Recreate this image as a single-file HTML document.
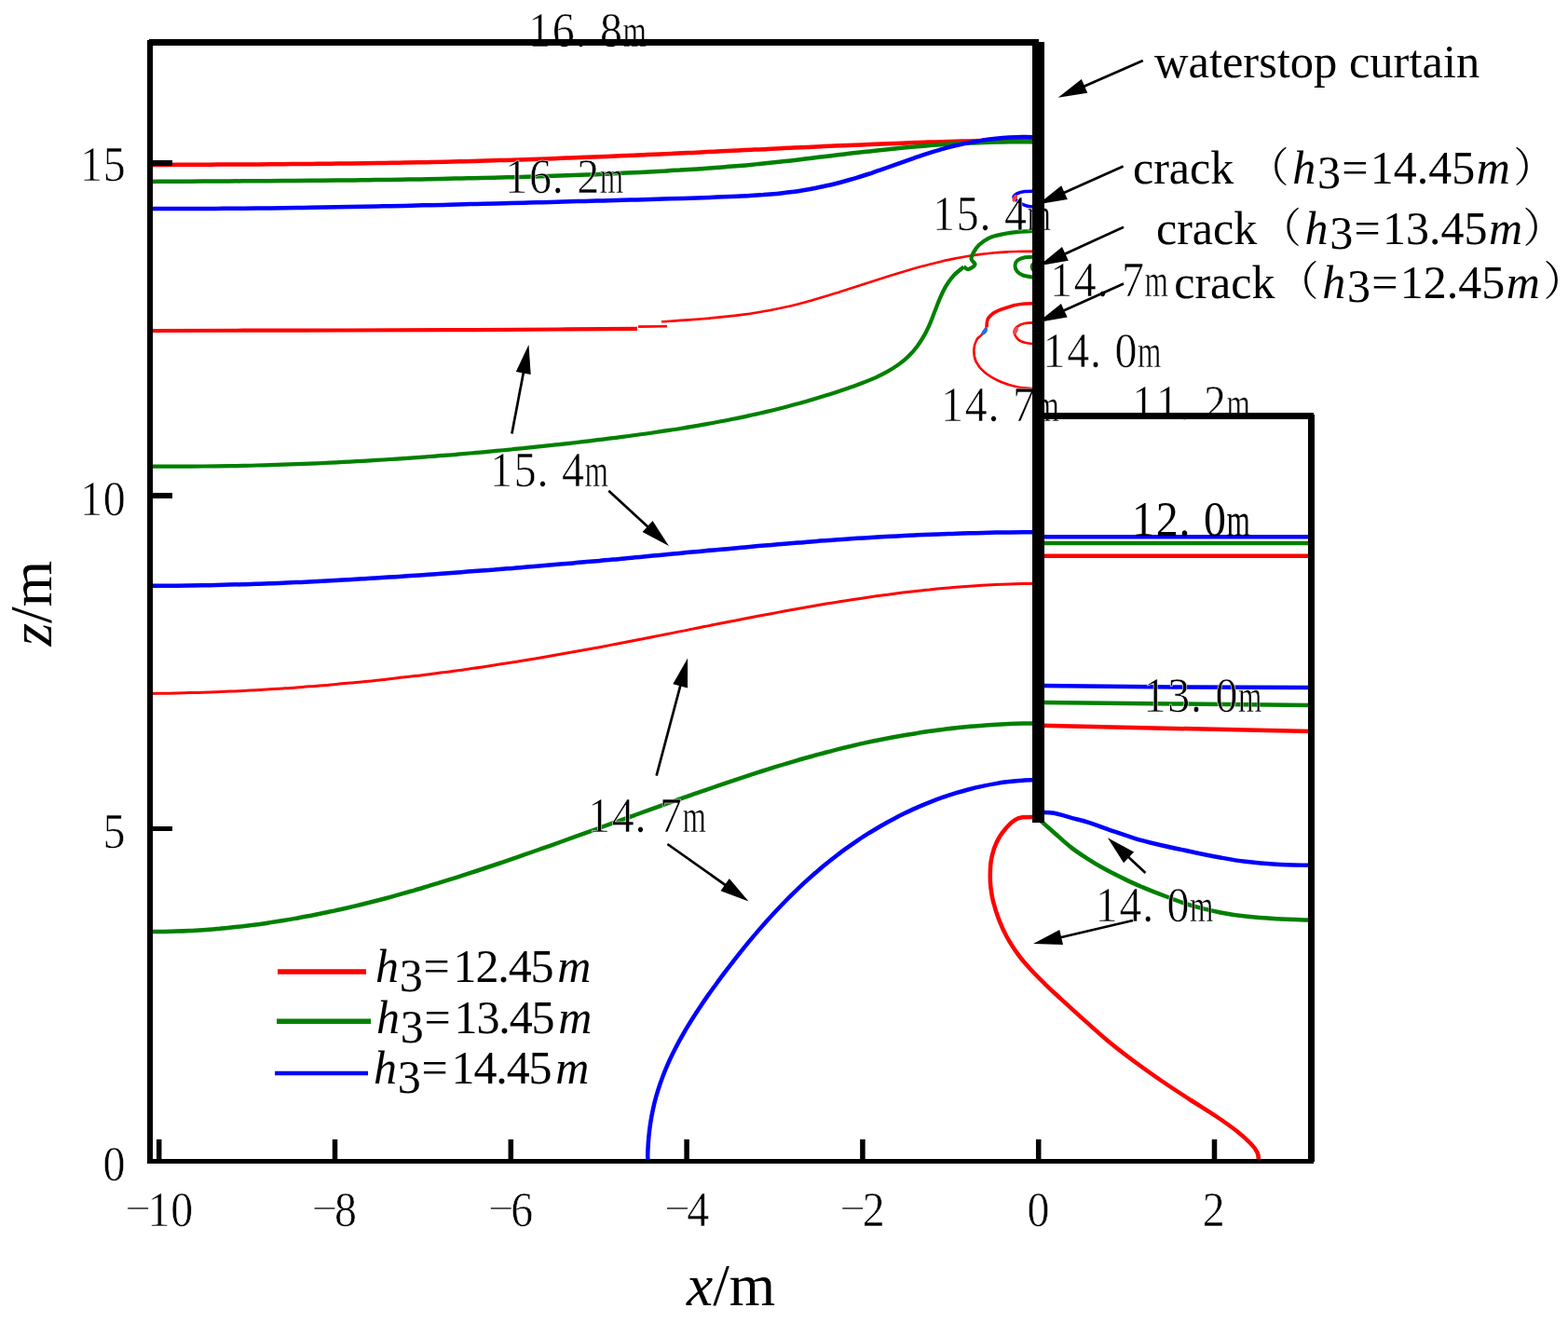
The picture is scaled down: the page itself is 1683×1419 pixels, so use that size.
<!DOCTYPE html>
<html lang="en">
<head>
<meta charset="utf-8">
<title>Contour plot of water head around waterstop curtain</title>
<style>
html,body{margin:0;padding:0;background:#fff;}
body{width:1683px;height:1419px;overflow:hidden;}
svg{display:block;}
text{white-space:pre;}
</style>
</head>
<body>
<svg width="1683" height="1419" viewBox="0 0 1683 1419" font-family="'Liberation Serif', 'Noto Serif CJK SC', serif" fill="#000">
<rect width="1683" height="1419" fill="#fff"/>
<g fill="none" stroke-linecap="butt" stroke-linejoin="round">
<path d="M161.0 177.0C163.4 177.0 170.6 176.9 175.4 176.9C180.2 176.9 185.0 176.9 189.8 176.8C194.6 176.8 199.4 176.8 204.2 176.8C209.1 176.7 213.9 176.7 218.7 176.7C223.5 176.7 228.3 176.6 233.1 176.6C237.9 176.6 242.7 176.6 247.5 176.5C252.3 176.5 257.1 176.5 261.9 176.5C266.7 176.4 271.5 176.4 276.3 176.4C281.1 176.3 285.9 176.3 290.7 176.3C295.6 176.2 300.4 176.2 305.2 176.2C310.0 176.1 314.8 176.1 319.6 176.0C324.4 176.0 329.2 176.0 334.0 175.9C338.8 175.9 343.6 175.8 348.4 175.8C353.2 175.7 358.0 175.7 362.8 175.6C367.6 175.6 372.4 175.5 377.2 175.5C382.1 175.4 386.9 175.3 391.7 175.3C396.5 175.2 401.3 175.1 406.1 175.1C410.9 175.0 415.7 174.9 420.5 174.8C425.3 174.7 430.1 174.7 434.9 174.6C439.7 174.5 444.5 174.4 449.3 174.3C454.1 174.2 458.9 174.1 463.7 174.0C468.5 173.9 473.3 173.8 478.1 173.7C482.9 173.6 487.7 173.5 492.6 173.3C497.4 173.2 502.2 173.1 507.0 173.0C511.8 172.8 516.6 172.7 521.4 172.5C526.2 172.4 531.0 172.3 535.8 172.1C540.6 172.0 545.4 171.8 550.2 171.7C555.0 171.5 559.8 171.4 564.6 171.2C569.4 171.0 574.2 170.9 579.0 170.7C583.8 170.5 588.6 170.3 593.4 170.2C598.2 170.0 603.0 169.8 607.8 169.6C612.6 169.5 617.4 169.3 622.2 169.1C627.0 168.9 631.8 168.7 636.6 168.5C641.4 168.3 646.2 168.1 651.0 167.9C655.8 167.7 660.6 167.5 665.4 167.3C670.2 167.1 675.0 166.9 679.8 166.7C684.6 166.5 689.4 166.3 694.2 166.0C699.0 165.8 703.9 165.6 708.7 165.4C713.5 165.2 718.3 165.0 723.1 164.7C727.9 164.5 732.7 164.3 737.5 164.1C742.3 163.8 747.1 163.6 751.9 163.4C756.7 163.2 761.5 162.9 766.3 162.7C771.1 162.5 775.9 162.2 780.7 162.0C785.5 161.8 790.3 161.6 795.1 161.3C799.9 161.1 804.7 160.9 809.5 160.6C814.3 160.4 819.1 160.2 823.9 159.9C828.7 159.7 833.5 159.5 838.3 159.3C843.1 159.0 847.9 158.8 852.7 158.6C857.5 158.4 862.3 158.1 867.1 157.9C871.9 157.7 876.7 157.5 881.5 157.3C886.3 157.0 891.1 156.8 895.9 156.6C900.7 156.4 905.5 156.2 910.3 156.0C915.1 155.8 919.9 155.6 924.7 155.4C929.5 155.2 934.3 155.0 939.1 154.8C943.9 154.6 948.7 154.4 953.5 154.2C958.3 154.0 963.1 153.8 967.9 153.7C972.7 153.5 977.5 153.3 982.3 153.1C987.1 153.0 991.9 152.8 996.7 152.6C1001.5 152.5 1006.3 152.3 1011.1 152.2C1015.9 152.0 1020.7 151.9 1025.5 151.7C1030.3 151.6 1035.1 151.5 1039.9 151.4C1044.7 151.2 1049.5 151.1 1054.3 151.0C1059.1 150.9 1063.9 150.9 1068.7 150.8C1073.6 150.7 1078.4 150.6 1083.2 150.6C1088.0 150.5 1092.8 150.5 1097.6 150.4C1102.4 150.4 1109.6 150.4 1112.0 150.4" stroke="#ff0000" stroke-width="4.5"/>
<path d="M161.0 194.9C163.4 194.9 170.5 194.8 175.2 194.8C180.0 194.8 184.7 194.8 189.4 194.7C194.2 194.7 198.9 194.7 203.7 194.7C208.4 194.6 213.1 194.6 217.9 194.6C222.6 194.6 227.4 194.5 232.1 194.5C236.8 194.5 241.6 194.5 246.3 194.4C251.1 194.4 255.8 194.4 260.5 194.3C265.3 194.3 270.0 194.3 274.8 194.3C279.5 194.2 284.2 194.2 289.0 194.2C293.7 194.1 298.5 194.1 303.2 194.1C307.9 194.0 312.7 194.0 317.4 193.9C322.1 193.9 326.9 193.9 331.6 193.8C336.4 193.8 341.1 193.7 345.8 193.7C350.6 193.6 355.3 193.6 360.1 193.6C364.8 193.5 369.5 193.5 374.3 193.4C379.0 193.4 383.8 193.3 388.5 193.2C393.2 193.2 398.0 193.1 402.7 193.1C407.4 193.0 412.2 192.9 416.9 192.9C421.7 192.8 426.4 192.7 431.1 192.7C435.9 192.6 440.6 192.5 445.4 192.4C450.1 192.4 454.8 192.3 459.6 192.2C464.3 192.1 469.0 192.0 473.8 191.9C478.5 191.8 483.3 191.7 488.0 191.6C492.7 191.5 497.5 191.4 502.2 191.3C507.0 191.2 511.7 191.1 516.4 191.0C521.2 190.9 525.9 190.8 530.6 190.7C535.4 190.5 540.1 190.4 544.9 190.3C549.6 190.1 554.3 190.0 559.1 189.9C563.8 189.7 568.5 189.6 573.3 189.5C578.0 189.3 582.8 189.2 587.5 189.0C592.2 188.8 597.0 188.7 601.7 188.5C606.5 188.3 611.2 188.2 615.9 188.0C620.7 187.8 625.4 187.6 630.1 187.4C634.9 187.3 639.6 187.1 644.3 186.9C649.1 186.7 653.8 186.5 658.6 186.2C663.3 186.0 668.0 185.8 672.8 185.6C677.5 185.4 682.2 185.1 687.0 184.9C691.7 184.7 696.4 184.4 701.2 184.2C705.9 183.9 710.6 183.6 715.4 183.4C720.1 183.1 724.8 182.8 729.6 182.6C734.3 182.3 739.0 182.0 743.7 181.7C748.5 181.4 753.2 181.1 757.9 180.7C762.7 180.4 767.4 180.1 772.1 179.7C776.8 179.4 781.6 179.0 786.3 178.6C791.0 178.2 795.7 177.8 800.4 177.4C805.2 176.9 809.9 176.5 814.6 176.0C819.3 175.5 824.0 175.0 828.7 174.5C833.4 174.0 838.1 173.5 842.9 173.0C847.6 172.4 852.3 171.9 857.0 171.4C861.7 170.8 866.4 170.3 871.1 169.7C875.8 169.1 880.5 168.6 885.2 168.0C889.9 167.4 894.6 166.9 899.3 166.3C904.0 165.7 908.8 165.2 913.5 164.6C918.2 164.1 922.9 163.5 927.6 163.0C932.3 162.4 937.0 161.9 941.7 161.4C946.4 160.9 951.1 160.4 955.9 159.9C960.6 159.4 965.3 159.0 970.0 158.5C974.7 158.1 979.4 157.7 984.2 157.3C988.9 156.9 993.6 156.5 998.3 156.1C1003.1 155.8 1007.8 155.4 1012.5 155.1C1017.2 154.8 1022.0 154.5 1026.7 154.3C1031.4 154.0 1036.2 153.8 1040.9 153.6C1045.6 153.3 1050.4 153.2 1055.1 153.0C1059.8 152.8 1064.6 152.7 1069.3 152.6C1074.0 152.5 1078.8 152.4 1083.5 152.3C1088.3 152.3 1093.0 152.3 1097.8 152.3C1102.5 152.3 1109.6 152.4 1112.0 152.4" stroke="#008000" stroke-width="4.5"/>
<path d="M161.0 224.0C163.4 224.0 170.5 224.0 175.3 224.0C180.1 224.0 184.9 224.0 189.6 224.0C194.4 224.0 199.2 224.0 203.9 224.0C208.7 224.0 213.5 224.0 218.3 224.0C223.0 223.9 227.8 223.9 232.6 223.9C237.4 223.9 242.1 223.8 246.9 223.8C251.7 223.8 256.4 223.7 261.2 223.7C266.0 223.6 270.8 223.6 275.5 223.5C280.3 223.5 285.1 223.4 289.9 223.4C294.6 223.3 299.4 223.3 304.2 223.2C308.9 223.1 313.7 223.1 318.5 223.0C323.3 222.9 328.0 222.9 332.8 222.8C337.6 222.7 342.3 222.6 347.1 222.6C351.9 222.5 356.7 222.4 361.4 222.3C366.2 222.2 371.0 222.1 375.8 222.1C380.5 222.0 385.3 221.9 390.1 221.8C394.8 221.7 399.6 221.6 404.4 221.5C409.2 221.4 413.9 221.3 418.7 221.2C423.5 221.1 428.3 221.0 433.0 220.9C437.8 220.8 442.6 220.7 447.3 220.5C452.1 220.4 456.9 220.3 461.7 220.2C466.4 220.1 471.2 220.0 476.0 219.9C480.7 219.7 485.5 219.6 490.3 219.5C495.1 219.4 499.8 219.3 504.6 219.1C509.4 219.0 514.1 218.9 518.9 218.8C523.7 218.7 528.5 218.5 533.2 218.4C538.0 218.3 542.8 218.2 547.5 218.0C552.3 217.9 557.1 217.8 561.8 217.7C566.6 217.5 571.4 217.4 576.2 217.3C580.9 217.1 585.7 217.0 590.5 216.9C595.2 216.8 600.0 216.6 604.8 216.5C609.5 216.4 614.3 216.2 619.1 216.1C623.9 216.0 628.6 215.9 633.4 215.7C638.2 215.6 642.9 215.5 647.7 215.4C652.5 215.2 657.2 215.1 662.0 215.0C666.8 214.8 671.5 214.7 676.3 214.6C681.1 214.5 685.8 214.3 690.6 214.2C695.4 214.1 700.2 213.9 704.9 213.8C709.7 213.6 714.5 213.5 719.2 213.3C724.0 213.2 728.8 213.0 733.5 212.9C738.3 212.7 743.1 212.6 747.9 212.4C752.6 212.2 757.4 212.1 762.2 211.9C767.0 211.7 771.7 211.5 776.5 211.3C781.3 211.1 786.1 210.9 790.8 210.7C795.6 210.5 800.4 210.3 805.2 210.0C809.9 209.7 814.7 209.4 819.5 209.1C824.2 208.7 829.0 208.3 833.7 207.9C838.5 207.4 843.2 206.9 847.9 206.3C852.7 205.7 857.4 205.0 862.1 204.2C866.8 203.5 871.5 202.6 876.1 201.7C880.8 200.8 885.5 199.7 890.1 198.7C894.7 197.6 899.4 196.4 904.0 195.2C908.6 193.9 913.2 192.6 917.8 191.3C922.4 189.9 926.9 188.5 931.5 187.0C936.0 185.5 940.5 183.9 945.1 182.4C949.6 180.8 954.1 179.2 958.6 177.6C963.1 176.0 967.6 174.4 972.1 172.8C976.6 171.2 981.1 169.6 985.6 168.1C990.1 166.5 994.6 165.0 999.2 163.6C1003.8 162.2 1008.3 160.8 1012.9 159.6C1017.5 158.3 1022.1 157.1 1026.8 156.0C1031.4 154.9 1036.1 153.9 1040.8 153.1C1045.4 152.2 1050.1 151.4 1054.8 150.6C1059.6 149.9 1064.3 149.3 1069.0 148.8C1073.8 148.3 1078.5 147.9 1083.3 147.6C1088.1 147.4 1092.8 147.2 1097.6 147.1C1102.4 147.0 1109.6 147.2 1112.0 147.2" stroke="#0000ff" stroke-width="4.5"/>
<path d="M1112.0 205.3C1110.0 205.4 1103.3 205.2 1100.0 205.6C1096.7 206.0 1094.0 206.6 1092.0 207.6C1090.0 208.6 1088.2 210.3 1088.0 211.5C1087.8 212.7 1089.5 213.8 1091.0 215.0C1092.5 216.2 1095.0 217.9 1097.0 219.0C1099.0 220.1 1100.5 220.8 1103.0 221.3C1105.5 221.9 1110.5 222.1 1112.0 222.3" stroke="#0000ff" stroke-width="3.5"/>
<path d="M161.0 355.0C187.5 354.9 266.8 354.7 320.0 354.6C373.2 354.5 433.3 354.4 480.0 354.2C526.7 354.0 566.0 353.7 600.0 353.5C634.0 353.3 670.0 352.9 684.0 352.8" stroke="#ff0000" stroke-width="4.2"/>
<path d="M685.0 350.6L716.0 350.2" stroke="#ff0000" stroke-width="2.6"/>
<path d="M710.0 345.3C712.4 345.1 719.8 344.7 724.6 344.4C729.5 344.0 734.4 343.7 739.3 343.4C744.2 343.0 749.1 342.6 753.9 342.2C758.8 341.8 763.7 341.4 768.6 340.9C773.5 340.5 778.3 340.0 783.2 339.4C788.1 338.9 792.9 338.3 797.8 337.6C802.6 337.0 807.4 336.3 812.3 335.5C817.1 334.7 821.9 333.9 826.7 333.0C831.5 332.1 836.3 331.1 841.0 330.0C845.8 329.0 850.6 327.9 855.3 326.7C860.0 325.5 864.7 324.2 869.5 322.9C874.2 321.6 878.9 320.2 883.5 318.8C888.2 317.4 892.9 316.0 897.6 314.5C902.3 313.1 906.9 311.6 911.6 310.1C916.3 308.6 920.9 307.0 925.6 305.5C930.3 304.0 934.9 302.5 939.6 301.0C944.3 299.5 948.9 298.0 953.6 296.5C958.3 295.0 962.9 293.6 967.6 292.2C972.3 290.8 977.0 289.4 981.7 288.0C986.4 286.7 991.1 285.4 995.9 284.2C1000.6 282.9 1005.3 281.8 1010.1 280.7C1014.8 279.6 1019.6 278.5 1024.4 277.6C1029.2 276.6 1034.0 275.8 1038.8 275.0C1043.6 274.2 1048.4 273.5 1053.3 272.9C1058.1 272.3 1063.0 271.8 1067.9 271.3C1072.8 270.9 1077.7 270.6 1082.5 270.3C1087.4 270.1 1092.3 269.9 1097.3 269.8C1102.2 269.8 1109.5 269.9 1112.0 269.9" stroke="#ff0000" stroke-width="2.6"/>
<path d="M161.0 500.6C163.4 500.6 170.5 500.7 175.3 500.7C180.1 500.7 184.9 500.7 189.6 500.7C194.4 500.7 199.2 500.7 203.9 500.6C208.7 500.6 213.5 500.6 218.3 500.5C223.0 500.5 227.8 500.4 232.6 500.4C237.3 500.3 242.1 500.2 246.9 500.2C251.7 500.1 256.4 500.0 261.2 499.9C266.0 499.8 270.7 499.7 275.5 499.5C280.3 499.4 285.1 499.3 289.8 499.1C294.6 499.0 299.4 498.8 304.2 498.7C308.9 498.5 313.7 498.4 318.5 498.2C323.2 498.0 328.0 497.8 332.8 497.6C337.6 497.4 342.3 497.2 347.1 497.0C351.9 496.8 356.6 496.5 361.4 496.3C366.2 496.1 370.9 495.8 375.7 495.6C380.5 495.3 385.2 495.1 390.0 494.8C394.8 494.5 399.5 494.2 404.3 493.9C409.1 493.7 413.8 493.4 418.6 493.0C423.4 492.7 428.1 492.4 432.9 492.1C437.7 491.8 442.4 491.4 447.2 491.1C452.0 490.7 456.7 490.4 461.5 490.0C466.2 489.7 471.0 489.3 475.8 488.9C480.5 488.5 485.3 488.1 490.0 487.8C494.8 487.4 499.6 486.9 504.3 486.5C509.1 486.1 513.8 485.7 518.6 485.3C523.3 484.8 528.1 484.4 532.9 483.9C537.6 483.5 542.4 483.0 547.1 482.6C551.9 482.1 556.6 481.6 561.4 481.2C566.1 480.7 570.9 480.2 575.6 479.7C580.3 479.2 585.1 478.7 589.8 478.2C594.6 477.6 599.3 477.1 604.1 476.6C608.8 476.1 613.6 475.5 618.3 475.0C623.0 474.4 627.8 473.9 632.5 473.3C637.2 472.7 642.0 472.2 646.7 471.6C651.4 471.0 656.2 470.4 660.9 469.8C665.6 469.2 670.4 468.6 675.1 468.0C679.8 467.3 684.5 466.7 689.3 466.0C694.0 465.4 698.7 464.7 703.4 464.0C708.1 463.4 712.9 462.7 717.6 461.9C722.3 461.2 727.0 460.5 731.7 459.7C736.4 459.0 741.1 458.2 745.8 457.4C750.5 456.6 755.2 455.8 759.9 454.9C764.6 454.1 769.3 453.2 773.9 452.3C778.6 451.4 783.3 450.5 788.0 449.5C792.6 448.6 797.3 447.6 802.0 446.6C806.6 445.6 811.3 444.6 815.9 443.5C820.6 442.4 825.2 441.3 829.9 440.2C834.5 439.0 839.2 437.9 843.8 436.7C848.4 435.5 853.0 434.2 857.7 433.0C862.3 431.7 866.9 430.4 871.5 429.0C876.1 427.7 880.7 426.3 885.3 424.8C889.9 423.4 894.5 421.9 899.0 420.4C903.6 418.9 908.2 417.4 912.7 415.8C917.3 414.1 921.9 412.5 926.4 410.8C930.9 409.0 935.4 407.2 939.7 405.3C944.1 403.3 948.3 401.2 952.4 398.9C956.5 396.6 960.5 394.1 964.3 391.4C968.1 388.7 971.7 385.8 975.0 382.5C978.3 379.3 981.4 375.7 984.3 371.9C987.1 368.2 989.7 364.1 992.1 359.9C994.4 355.8 996.4 351.3 998.4 346.9C1000.3 342.5 1001.9 337.8 1003.7 333.3C1005.5 328.8 1007.1 324.3 1009.0 319.9C1011.0 315.5 1012.9 311.2 1015.3 307.2C1017.7 303.2 1020.3 299.3 1023.5 295.8C1026.7 292.3 1032.7 288.0 1034.5 286.4" stroke="#008000" stroke-width="4.2"/>
<path d="M1034.5 286.4C1035.3 286.8 1037.5 289.4 1039.5 289.0C1041.5 288.6 1046.0 285.8 1046.5 284.0C1047.0 282.2 1042.8 280.3 1042.6 278.0C1042.4 275.7 1043.9 272.9 1045.3 270.4C1046.7 267.9 1048.2 265.3 1051.0 262.8C1053.8 260.3 1058.0 257.2 1062.4 255.2C1066.8 253.2 1072.5 252.1 1077.6 251.0C1082.7 249.9 1087.1 249.4 1092.8 248.9C1098.5 248.4 1108.8 248.2 1112.0 248.0" stroke="#008000" stroke-width="4.2"/>
<path d="M1112.0 275.6C1110.0 275.7 1103.3 275.6 1100.0 276.2C1096.7 276.8 1093.8 278.0 1092.0 279.5C1090.2 281.0 1089.6 283.1 1089.5 285.0C1089.4 286.9 1090.1 289.2 1091.5 291.0C1092.9 292.8 1094.6 294.3 1098.0 295.5C1101.4 296.7 1109.7 297.8 1112.0 298.2" stroke="#008000" stroke-width="4"/>
<path d="M1112.0 325.6C1110.0 325.7 1104.0 325.6 1100.0 326.0C1096.0 326.4 1093.6 326.3 1088.3 327.8C1083.0 329.3 1073.0 332.5 1068.4 334.9C1063.8 337.3 1062.1 339.3 1060.5 342.0C1058.9 344.7 1059.2 349.8 1059.0 351.3" stroke="#ff0000" stroke-width="3.5"/>
<path d="M1059.0 351.3C1058.2 352.6 1055.8 356.8 1054.0 359.0C1052.2 361.2 1049.9 361.8 1048.4 364.5C1047.0 367.2 1045.4 371.5 1045.3 375.5C1045.2 379.5 1045.8 384.3 1047.7 388.4C1049.7 392.4 1052.6 396.2 1057.0 399.8C1061.4 403.4 1068.1 407.2 1074.0 409.8C1079.9 412.4 1086.3 414.3 1092.6 415.5C1098.9 416.7 1108.8 416.9 1112.0 417.2" stroke="#ff0000" stroke-width="2.6"/>
<path d="M1112.0 346.3C1110.0 346.4 1103.3 346.3 1100.0 347.0C1096.7 347.7 1093.9 349.0 1092.0 350.5C1090.1 352.0 1088.5 353.7 1088.6 356.0C1088.7 358.3 1090.7 362.1 1092.6 364.1C1094.5 366.1 1096.8 366.9 1100.0 367.8C1103.2 368.7 1110.0 369.3 1112.0 369.6" stroke="#ff0000" stroke-width="2.6"/>
<path d="M161.0 628.8C163.4 628.8 170.5 628.8 175.2 628.8C180.0 628.7 184.7 628.7 189.5 628.7C194.2 628.6 198.9 628.6 203.7 628.5C208.4 628.4 213.2 628.3 217.9 628.3C222.6 628.2 227.4 628.1 232.1 628.0C236.9 627.9 241.6 627.7 246.4 627.6C251.1 627.5 255.8 627.4 260.6 627.2C265.3 627.1 270.0 626.9 274.8 626.7C279.5 626.6 284.3 626.4 289.0 626.2C293.7 626.1 298.5 625.9 303.2 625.7C308.0 625.5 312.7 625.3 317.4 625.1C322.2 624.8 326.9 624.6 331.6 624.4C336.4 624.2 341.1 623.9 345.8 623.7C350.6 623.4 355.3 623.2 360.0 622.9C364.8 622.7 369.5 622.4 374.3 622.2C379.0 621.9 383.7 621.6 388.5 621.3C393.2 621.1 397.9 620.8 402.7 620.5C407.4 620.2 412.1 619.9 416.9 619.6C421.6 619.3 426.3 619.0 431.0 618.7C435.8 618.3 440.5 618.0 445.2 617.7C450.0 617.4 454.7 617.1 459.4 616.7C464.2 616.4 468.9 616.1 473.6 615.7C478.4 615.4 483.1 615.0 487.8 614.7C492.5 614.3 497.3 614.0 502.0 613.6C506.7 613.3 511.5 612.9 516.2 612.6C520.9 612.2 525.6 611.8 530.4 611.5C535.1 611.1 539.8 610.7 544.5 610.3C549.3 610.0 554.0 609.6 558.7 609.2C563.4 608.8 568.2 608.4 572.9 608.0C577.6 607.6 582.3 607.2 587.1 606.8C591.8 606.4 596.5 606.0 601.2 605.6C606.0 605.2 610.7 604.8 615.4 604.4C620.1 604.0 624.9 603.6 629.6 603.1C634.3 602.7 639.0 602.3 643.8 601.9C648.5 601.4 653.2 601.0 657.9 600.6C662.6 600.1 667.4 599.7 672.1 599.3C676.8 598.8 681.5 598.4 686.3 598.0C691.0 597.5 695.7 597.1 700.4 596.6C705.1 596.2 709.9 595.7 714.6 595.3C719.3 594.8 724.0 594.4 728.7 593.9C733.5 593.5 738.2 593.1 742.9 592.6C747.6 592.2 752.4 591.7 757.1 591.3C761.8 590.8 766.5 590.4 771.2 590.0C776.0 589.5 780.7 589.1 785.4 588.7C790.1 588.2 794.8 587.8 799.6 587.4C804.3 587.0 809.0 586.5 813.7 586.1C818.5 585.7 823.2 585.3 827.9 584.9C832.6 584.5 837.4 584.1 842.1 583.7C846.8 583.3 851.5 582.9 856.3 582.5C861.0 582.2 865.7 581.8 870.4 581.4C875.2 581.1 879.9 580.7 884.6 580.3C889.3 580.0 894.1 579.7 898.8 579.3C903.5 579.0 908.3 578.7 913.0 578.3C917.7 578.0 922.5 577.7 927.2 577.4C931.9 577.1 936.7 576.9 941.4 576.6C946.1 576.3 950.8 576.0 955.6 575.8C960.3 575.5 965.1 575.3 969.8 575.0C974.5 574.8 979.3 574.6 984.0 574.3C988.7 574.1 993.5 573.9 998.2 573.7C1002.9 573.5 1007.7 573.3 1012.4 573.2C1017.2 573.0 1021.9 572.8 1026.6 572.7C1031.4 572.5 1036.1 572.4 1040.9 572.3C1045.6 572.1 1050.3 572.0 1055.1 571.9C1059.8 571.8 1064.6 571.7 1069.3 571.6C1074.0 571.5 1078.8 571.5 1083.5 571.4C1088.3 571.3 1093.0 571.3 1097.8 571.3C1102.5 571.2 1109.6 571.2 1112.0 571.2" stroke="#0000ff" stroke-width="4.5"/>
<path d="M161.0 744.4C163.4 744.4 170.6 744.3 175.3 744.2C180.1 744.2 184.9 744.1 189.7 744.0C194.4 743.9 199.2 743.8 204.0 743.6C208.8 743.5 213.5 743.4 218.3 743.2C223.1 743.0 227.8 742.9 232.6 742.7C237.4 742.5 242.2 742.3 246.9 742.1C251.7 741.9 256.5 741.7 261.2 741.4C266.0 741.2 270.8 740.9 275.6 740.7C280.3 740.4 285.1 740.1 289.9 739.8C294.6 739.5 299.4 739.2 304.2 738.9C308.9 738.6 313.7 738.3 318.4 737.9C323.2 737.6 328.0 737.2 332.7 736.8C337.5 736.5 342.3 736.1 347.0 735.7C351.8 735.3 356.5 734.9 361.3 734.4C366.0 734.0 370.8 733.6 375.6 733.1C380.3 732.7 385.1 732.2 389.8 731.7C394.6 731.3 399.3 730.8 404.1 730.3C408.8 729.8 413.6 729.3 418.3 728.7C423.1 728.2 427.8 727.7 432.5 727.1C437.3 726.6 442.0 726.0 446.8 725.4C451.5 724.9 456.3 724.3 461.0 723.7C465.7 723.1 470.5 722.5 475.2 721.8C479.9 721.2 484.7 720.6 489.4 719.9C494.1 719.3 498.9 718.6 503.6 717.9C508.3 717.3 513.0 716.6 517.8 715.9C522.5 715.2 527.2 714.5 531.9 713.8C536.7 713.0 541.4 712.3 546.1 711.6C550.8 710.8 555.5 710.1 560.2 709.3C565.0 708.5 569.7 707.8 574.4 707.0C579.1 706.2 583.8 705.4 588.5 704.6C593.2 703.8 597.9 702.9 602.6 702.1C607.3 701.3 612.0 700.4 616.7 699.6C621.4 698.7 626.1 697.9 630.8 697.0C635.5 696.1 640.2 695.3 644.9 694.4C649.6 693.5 654.3 692.6 659.0 691.7C663.6 690.8 668.3 689.9 673.0 689.0C677.7 688.1 682.4 687.2 687.1 686.3C691.8 685.3 696.5 684.4 701.1 683.5C705.8 682.6 710.5 681.6 715.2 680.7C719.9 679.8 724.6 678.9 729.2 677.9C733.9 677.0 738.6 676.1 743.3 675.1C748.0 674.2 752.7 673.3 757.4 672.3C762.0 671.4 766.7 670.5 771.4 669.5C776.1 668.6 780.8 667.7 785.5 666.8C790.2 665.9 794.9 664.9 799.5 664.0C804.2 663.1 808.9 662.2 813.6 661.3C818.3 660.4 823.0 659.5 827.7 658.7C832.4 657.8 837.1 656.9 841.8 656.0C846.5 655.2 851.2 654.3 855.9 653.5C860.6 652.6 865.3 651.8 870.0 651.0C874.7 650.2 879.4 649.4 884.1 648.6C888.8 647.8 893.5 647.0 898.3 646.3C903.0 645.5 907.7 644.7 912.4 644.0C917.1 643.3 921.8 642.6 926.6 641.9C931.3 641.2 936.0 640.5 940.7 639.8C945.5 639.2 950.2 638.6 954.9 637.9C959.6 637.3 964.4 636.7 969.1 636.1C973.9 635.6 978.6 635.0 983.3 634.5C988.1 634.0 992.8 633.4 997.6 633.0C1002.3 632.5 1007.1 632.0 1011.8 631.6C1016.6 631.1 1021.3 630.7 1026.1 630.3C1030.9 629.9 1035.6 629.6 1040.4 629.2C1045.1 628.9 1049.9 628.6 1054.7 628.3C1059.4 628.0 1064.2 627.8 1069.0 627.5C1073.8 627.3 1078.5 627.1 1083.3 626.9C1088.1 626.7 1092.9 626.6 1097.6 626.5C1102.4 626.4 1109.6 626.2 1112.0 626.2" stroke="#ff0000" stroke-width="3.0"/>
<path d="M161.0 1000.1C163.4 1000.1 170.5 1000.1 175.3 1000.0C180.0 999.9 184.8 999.8 189.5 999.6C194.3 999.5 199.0 999.3 203.7 999.0C208.5 998.8 213.2 998.5 217.9 998.2C222.7 997.8 227.4 997.5 232.1 997.1C236.9 996.7 241.6 996.2 246.3 995.7C251.0 995.3 255.7 994.7 260.5 994.2C265.2 993.6 269.9 993.0 274.6 992.4C279.3 991.8 284.0 991.1 288.7 990.4C293.4 989.7 298.1 989.0 302.7 988.3C307.4 987.5 312.1 986.7 316.8 985.9C321.4 985.1 326.1 984.2 330.8 983.3C335.4 982.4 340.1 981.5 344.7 980.5C349.4 979.6 354.0 978.6 358.7 977.6C363.3 976.6 367.9 975.5 372.6 974.5C377.2 973.4 381.8 972.3 386.4 971.2C391.0 970.1 395.7 968.9 400.3 967.8C404.8 966.6 409.4 965.4 414.0 964.2C418.6 962.9 423.2 961.7 427.8 960.4C432.3 959.1 436.9 957.8 441.5 956.5C446.0 955.2 450.6 953.9 455.1 952.5C459.7 951.2 464.2 949.8 468.8 948.4C473.3 947.0 477.8 945.6 482.4 944.2C486.9 942.8 491.4 941.3 495.9 939.9C500.4 938.4 505.0 937.0 509.5 935.5C514.0 934.0 518.5 932.5 523.0 931.0C527.5 929.5 532.0 928.0 536.5 926.5C541.0 925.0 545.5 923.4 549.9 921.9C554.4 920.3 558.9 918.8 563.4 917.2C567.9 915.7 572.4 914.1 576.8 912.5C581.3 910.9 585.8 909.4 590.3 907.8C594.7 906.2 599.2 904.6 603.7 903.0C608.1 901.4 612.6 899.8 617.1 898.2C621.5 896.6 626.0 895.0 630.5 893.4C634.9 891.8 639.4 890.2 643.9 888.5C648.3 886.9 652.8 885.3 657.3 883.7C661.7 882.1 666.2 880.5 670.6 878.9C675.1 877.2 679.6 875.6 684.0 874.0C688.5 872.4 693.0 870.8 697.4 869.2C701.9 867.6 706.4 866.0 710.8 864.4C715.3 862.8 719.8 861.2 724.3 859.6C728.7 858.0 733.2 856.5 737.7 854.9C742.2 853.3 746.6 851.7 751.1 850.2C755.6 848.6 760.1 847.1 764.6 845.5C769.1 844.0 773.6 842.4 778.1 840.9C782.5 839.4 787.0 837.9 791.5 836.4C796.1 834.9 800.6 833.4 805.1 831.9C809.6 830.4 814.1 829.0 818.6 827.5C823.1 826.1 827.7 824.6 832.2 823.2C836.7 821.8 841.3 820.4 845.8 819.1C850.4 817.7 854.9 816.4 859.5 815.0C864.0 813.7 868.6 812.4 873.2 811.2C877.7 809.9 882.3 808.7 886.9 807.5C891.5 806.2 896.1 805.1 900.7 803.9C905.3 802.8 909.9 801.7 914.5 800.6C919.2 799.5 923.8 798.4 928.4 797.4C933.0 796.4 937.7 795.4 942.3 794.5C947.0 793.5 951.6 792.6 956.3 791.7C961.0 790.9 965.6 790.0 970.3 789.2C975.0 788.4 979.7 787.6 984.4 786.9C989.0 786.1 993.7 785.4 998.4 784.8C1003.1 784.1 1007.8 783.5 1012.5 782.9C1017.3 782.3 1022.0 781.8 1026.7 781.3C1031.4 780.7 1036.1 780.3 1040.9 779.8C1045.6 779.4 1050.3 779.0 1055.0 778.7C1059.8 778.3 1064.5 778.0 1069.3 777.7C1074.0 777.5 1078.7 777.2 1083.5 777.0C1088.2 776.8 1093.0 776.7 1097.7 776.6C1102.5 776.5 1109.6 776.4 1112.0 776.4" stroke="#008000" stroke-width="4.5"/>
<path d="M696.0 1246.5C695.9 1245.7 695.3 1244.9 695.2 1241.7C695.2 1238.4 695.5 1231.9 695.8 1227.0C696.1 1222.2 696.6 1217.3 697.2 1212.5C697.8 1207.7 698.5 1202.9 699.4 1198.1C700.3 1193.4 701.3 1188.6 702.4 1184.0C703.6 1179.3 704.9 1174.7 706.3 1170.1C707.7 1165.5 709.3 1161.0 711.0 1156.5C712.7 1152.0 714.5 1147.6 716.4 1143.2C718.3 1138.8 720.3 1134.4 722.5 1130.1C724.6 1125.8 726.8 1121.5 729.1 1117.3C731.5 1113.0 733.9 1108.8 736.3 1104.6C738.8 1100.5 741.4 1096.3 744.0 1092.2C746.6 1088.1 749.3 1084.0 752.0 1080.0C754.7 1075.9 757.5 1071.9 760.3 1067.9C763.1 1063.9 766.0 1060.0 768.9 1056.0C771.8 1052.0 774.7 1048.1 777.6 1044.2C780.5 1040.3 783.5 1036.4 786.5 1032.6C789.5 1028.7 792.5 1024.9 795.5 1021.1C798.6 1017.3 801.7 1013.5 804.8 1009.7C807.9 1006.0 811.0 1002.3 814.2 998.6C817.4 994.9 820.6 991.3 823.8 987.7C827.1 984.1 830.4 980.5 833.7 977.0C837.0 973.5 840.3 970.0 843.7 966.5C847.1 963.1 850.6 959.7 854.0 956.3C857.5 953.0 861.0 949.7 864.6 946.4C868.1 943.2 871.7 940.0 875.4 936.8C879.0 933.7 882.7 930.5 886.4 927.5C890.1 924.5 893.9 921.5 897.8 918.5C901.6 915.6 905.4 912.7 909.4 909.9C913.3 907.1 917.3 904.3 921.3 901.6C925.3 898.9 929.4 896.3 933.5 893.7C937.6 891.2 941.8 888.7 946.0 886.2C950.2 883.8 954.5 881.5 958.8 879.2C963.1 876.9 967.5 874.7 971.8 872.6C976.2 870.4 980.7 868.4 985.1 866.4C989.6 864.5 994.1 862.6 998.6 860.8C1003.2 859.0 1007.7 857.3 1012.3 855.7C1016.9 854.1 1021.5 852.6 1026.2 851.2C1030.8 849.8 1035.5 848.4 1040.2 847.2C1044.9 846.0 1049.6 844.9 1054.4 843.9C1059.1 842.8 1063.9 841.9 1068.7 841.1C1073.4 840.3 1078.2 839.6 1083.0 839.1C1087.8 838.5 1092.7 838.0 1097.5 837.7C1102.3 837.3 1109.6 837.1 1112.0 837.0" stroke="#0000ff" stroke-width="4.5"/>
<path d="M1112.0 876.9C1109.6 877.0 1101.3 876.7 1097.5 877.3C1093.7 877.9 1091.8 878.5 1089.0 880.3C1086.2 882.1 1083.3 884.9 1080.6 887.9C1077.9 890.9 1075.3 894.2 1073.0 898.0C1070.7 901.8 1068.5 906.4 1067.0 910.8C1065.5 915.2 1064.4 919.8 1063.7 924.3C1063.0 928.8 1062.9 933.3 1062.8 937.8C1062.7 942.3 1062.7 946.3 1063.3 951.4C1063.9 956.5 1064.7 962.4 1066.2 968.3C1067.7 974.2 1069.7 980.7 1072.1 986.9C1074.5 993.1 1077.2 999.3 1080.6 1005.5C1084.0 1011.7 1088.3 1018.3 1092.5 1024.1C1096.7 1029.9 1101.2 1035.0 1106.0 1040.3C1110.8 1045.6 1115.9 1050.6 1121.2 1055.8C1126.5 1061.0 1131.8 1065.8 1138.1 1071.6C1144.4 1077.4 1150.8 1083.2 1159.2 1090.8C1167.7 1098.4 1178.9 1108.8 1188.8 1117.0C1198.7 1125.2 1208.5 1132.7 1218.4 1140.0C1228.3 1147.3 1238.1 1154.2 1248.0 1161.0C1257.9 1167.8 1267.7 1174.1 1277.6 1180.5C1287.5 1186.9 1298.8 1193.8 1307.2 1199.5C1315.6 1205.2 1322.1 1209.8 1328.0 1214.5C1333.9 1219.2 1338.9 1223.8 1342.5 1227.5C1346.1 1231.2 1348.1 1234.1 1349.5 1237.0C1350.9 1239.9 1350.8 1243.7 1351.0 1245.0" stroke="#ff0000" stroke-width="4.5"/>
<path d="M1118.0 576.2L1406.0 576.2" stroke="#0000ff" stroke-width="4.5"/>
<path d="M1118.0 583.0L1406.0 583.0" stroke="#008000" stroke-width="4.5"/>
<path d="M1118.0 596.8L1406.0 596.8" stroke="#ff0000" stroke-width="4.5"/>
<path d="M1118.0 736.0L1260.0 737.4L1406.0 738.0" stroke="#0000ff" stroke-width="4.5"/>
<path d="M1118.0 754.0L1260.0 755.4L1406.0 757.0" stroke="#008000" stroke-width="4.5"/>
<path d="M1118.0 778.8L1260.0 781.9L1406.0 784.9" stroke="#ff0000" stroke-width="4.5"/>
<path d="M1118.0 872.0C1120.2 872.1 1126.1 871.8 1131.4 872.8C1136.7 873.8 1143.8 876.1 1150.0 877.8C1156.2 879.5 1161.5 880.5 1168.6 882.8C1175.6 885.0 1184.1 888.5 1192.3 891.3C1200.5 894.1 1209.8 897.4 1217.7 899.8C1225.7 902.2 1230.0 903.3 1240.0 905.7C1250.0 908.1 1265.9 911.5 1277.6 914.0C1289.3 916.5 1300.1 918.7 1310.0 920.5C1319.9 922.3 1326.8 923.6 1336.8 924.8C1346.8 926.0 1358.5 927.1 1370.0 927.8C1381.5 928.5 1400.0 928.6 1406.0 928.8" stroke="#0000ff" stroke-width="4.5"/>
<path d="M1116.0 880.0C1118.6 882.3 1125.7 888.8 1131.4 893.8C1137.1 898.8 1143.8 905.1 1150.0 909.9C1156.2 914.7 1162.4 918.6 1168.6 922.6C1174.8 926.6 1180.4 929.9 1187.2 933.6C1194.0 937.3 1202.7 941.5 1209.2 944.6C1215.7 947.7 1221.0 950.0 1226.1 952.2C1231.2 954.4 1231.4 954.5 1240.0 957.8C1248.6 961.0 1265.9 968.1 1277.6 971.7C1289.3 975.3 1300.1 977.5 1310.0 979.5C1319.9 981.5 1326.8 982.5 1336.8 983.6C1346.8 984.7 1358.5 985.6 1370.0 986.3C1381.5 987.0 1400.0 987.4 1406.0 987.6" stroke="#008000" stroke-width="4.5"/>
</g>
<ellipse cx="1089.3" cy="212.8" rx="2.2" ry="4.2" transform="rotate(25 1089.3 212.8)" fill="#f04040"/>
<ellipse cx="1056.8" cy="355.8" rx="2.3" ry="4.2" transform="rotate(35 1056.8 355.8)" fill="#1e6ee6"/>
<ellipse cx="1090" cy="355" rx="2.3" ry="4.4" transform="rotate(25 1090 355)" fill="#f04a4a"/>
<path d="M1109 282.5Q1105.5 286 1109 290.5" fill="none" stroke="#008000" stroke-width="3"/>
<g id="labels" stroke="#fff" stroke-width="0.55" paint-order="fill stroke">
<g><text transform="translate(569.0 50.3) scale(0.925 1)" x="-2.1 25.6 52.4 81.0" y="0" font-size="51.8">16.8</text><text transform="translate(668.4 50.3) scale(0.64 1.0)" x="0" y="0" font-size="51.0">m</text></g>
<g><text transform="translate(544.3 207.3) scale(0.925 1)" x="-2.1 25.6 52.4 81.0" y="0" font-size="51.8">16.2</text><text transform="translate(643.7 207.3) scale(0.64 1.0)" x="0" y="0" font-size="51.0">m</text></g>
<g><text transform="translate(1003.0 246.9) scale(0.925 1)" x="-2.1 25.6 52.4 81.0" y="0" font-size="51.8">15.4</text><text transform="translate(1102.4 246.9) scale(0.64 1.0)" x="0" y="0" font-size="51.0">m</text></g>
<g><text transform="translate(1129.0 317.5) scale(0.925 1)" x="-2.1 25.6 52.4 81.0" y="0" font-size="51.8">14.7</text><text transform="translate(1228.4 317.5) scale(0.64 1.0)" x="0" y="0" font-size="51.0">m</text></g>
<g><text transform="translate(1121.5 393.9) scale(0.925 1)" x="-2.1 25.6 52.4 81.0" y="0" font-size="51.8">14.0</text><text transform="translate(1220.9 393.9) scale(0.64 1.0)" x="0" y="0" font-size="51.0">m</text></g>
<g><text transform="translate(1012.0 451.8) scale(0.925 1)" x="-2.1 25.6 52.4 81.0" y="0" font-size="51.8">14.7</text><text transform="translate(1111.4 451.8) scale(0.64 1.0)" x="0" y="0" font-size="51.0">m</text></g>
<g><text transform="translate(1217.0 449.8) scale(0.925 1)" x="-2.1 25.6 52.4 81.0" y="0" font-size="51.8">11.2</text><text transform="translate(1316.4 449.8) scale(0.64 1.0)" x="0" y="0" font-size="51.0">m</text></g>
<g stroke="none"><text transform="translate(1217.0 575.1) scale(0.925 1)" x="-2.1 25.6 52.4 81.0" y="0" font-size="51.8">12.0</text><text transform="translate(1316.4 575.1) scale(0.64 1.0)" x="0" y="0" font-size="51.0">m</text></g>
<g><text transform="translate(1229.5 763.7) scale(0.925 1)" x="-2.1 25.6 52.4 81.0" y="0" font-size="51.8">13.0</text><text transform="translate(1328.9 763.7) scale(0.64 1.0)" x="0" y="0" font-size="51.0">m</text></g>
<g><text transform="translate(1177.7 989.1) scale(0.925 1)" x="-2.1 25.6 52.4 81.0" y="0" font-size="51.8">14.0</text><text transform="translate(1277.1 989.1) scale(0.64 1.0)" x="0" y="0" font-size="51.0">m</text></g>
<g><text transform="translate(528.0 521.8) scale(0.925 1)" x="-2.1 25.6 52.4 81.0" y="0" font-size="51.8">15.4</text><text transform="translate(627.4 521.8) scale(0.64 1.0)" x="0" y="0" font-size="51.0">m</text></g>
<g><text transform="translate(633.0 892.5) scale(0.925 1)" x="-2.1 25.6 52.4 81.0" y="0" font-size="51.8">14.7</text><text transform="translate(732.4 892.5) scale(0.64 1.0)" x="0" y="0" font-size="51.0">m</text></g>
</g>
<g id="legend">
<line x1="298" y1="1043" x2="393" y2="1043" stroke="#ff0000" stroke-width="5.5"/>
<line x1="297" y1="1096.3" x2="398" y2="1096.3" stroke="#008000" stroke-width="5.5"/>
<line x1="295" y1="1152" x2="395" y2="1152" stroke="#0000ff" stroke-width="4.5"/>
<text y="1054.0" font-size="50"><tspan x="403.0" font-style="italic">h</tspan><tspan x="428.7" dy="10.0">3</tspan><tspan x="454.5" dy="-10.0">=</tspan><tspan x="486.5" letter-spacing="-1.10">12.45</tspan><tspan x="598.2" font-style="italic">m</tspan></text>
<text y="1108.5" font-size="50"><tspan x="404.0" font-style="italic">h</tspan><tspan x="429.7" dy="10.0">3</tspan><tspan x="455.5" dy="-10.0">=</tspan><tspan x="487.5" letter-spacing="-1.10">13.45</tspan><tspan x="599.2" font-style="italic">m</tspan></text>
<text y="1162.5" font-size="50"><tspan x="401.0" font-style="italic">h</tspan><tspan x="426.7" dy="10.0">3</tspan><tspan x="452.5" dy="-10.0">=</tspan><tspan x="484.5" letter-spacing="-1.10">14.45</tspan><tspan x="596.2" font-style="italic">m</tspan></text>
</g>
<g id="notes">
<text x="1239" y="83.2" font-size="50.5">waterstop curtain</text>
<text y="197.2" font-size="50"><tspan x="1216.0">crack </tspan><tspan x="1339.4" dy="-2.4" font-size="44">（</tspan><tspan x="1387.2" dy="2.4" font-style="italic">h</tspan><tspan x="1413.9" dy="4.5">3</tspan><tspan x="1440.2" dy="-4.5">=</tspan><tspan x="1470.7">14.45</tspan><tspan x="1584.7" font-style="italic">m</tspan><tspan x="1624.6" dy="-2.4" font-size="44">）</tspan></text>
<text y="262.0" font-size="50"><tspan x="1241.0">crack</tspan><tspan x="1352.8" dy="-2.4" font-size="44">（</tspan><tspan x="1400.6" dy="2.4" font-style="italic">h</tspan><tspan x="1427.3" dy="4.5">3</tspan><tspan x="1453.6" dy="-4.5">=</tspan><tspan x="1484.1">13.45</tspan><tspan x="1598.1" font-style="italic">m</tspan><tspan x="1634.6" dy="-2.4" font-size="44">）</tspan></text>
<text y="319.5" font-size="50"><tspan x="1260.2">crack</tspan><tspan x="1371.4" dy="-2.4" font-size="44">（</tspan><tspan x="1419.2" dy="2.4" font-style="italic">h</tspan><tspan x="1445.9" dy="4.5">3</tspan><tspan x="1472.2" dy="-4.5">=</tspan><tspan x="1502.7">12.45</tspan><tspan x="1616.7" font-style="italic">m</tspan><tspan x="1656.6" dy="-2.4" font-size="44">）</tspan></text>
</g>
<g id="arrows">
<line x1="1226.8" y1="64.9" x2="1162.3" y2="93.2" stroke="#000" stroke-width="2.7"/><polygon points="1135.7,104.8 1160.8,84.9 1167.3,99.8" fill="#000"/>
<line x1="1205.6" y1="178.5" x2="1140.7" y2="207.4" stroke="#000" stroke-width="2.7"/><polygon points="1114.2,219.2 1139.2,199.2 1145.8,214.0" fill="#000"/>
<line x1="1206.0" y1="243.7" x2="1141.6" y2="273.2" stroke="#000" stroke-width="2.7"/><polygon points="1115.2,285.3 1140.0,265.0 1146.8,279.8" fill="#000"/>
<line x1="1206.0" y1="304.5" x2="1140.4" y2="334.1" stroke="#000" stroke-width="2.7"/><polygon points="1114.0,346.0 1138.9,325.9 1145.6,340.6" fill="#000"/>
<line x1="549.4" y1="465.5" x2="562.1" y2="398.5" stroke="#000" stroke-width="2.7"/><polygon points="567.5,370.0 569.7,402.0 553.8,398.9" fill="#000"/>
<line x1="653.3" y1="526.7" x2="696.5" y2="566.4" stroke="#000" stroke-width="2.7"/><polygon points="717.9,586.0 689.6,571.0 700.5,559.1" fill="#000"/>
<line x1="704.6" y1="832.6" x2="730.7" y2="734.4" stroke="#000" stroke-width="2.7"/><polygon points="738.1,706.4 738.0,738.4 722.3,734.3" fill="#000"/>
<line x1="716.4" y1="906.0" x2="779.8" y2="950.8" stroke="#000" stroke-width="2.7"/><polygon points="803.5,967.5 773.5,956.2 782.8,943.0" fill="#000"/>
<line x1="1229.5" y1="937.0" x2="1210.2" y2="919.0" stroke="#000" stroke-width="2.7"/><polygon points="1188.9,899.3 1217.1,914.5 1206.1,926.3" fill="#000"/>
<line x1="1216.0" y1="988.0" x2="1137.2" y2="1006.5" stroke="#000" stroke-width="2.7"/><polygon points="1109.0,1013.1 1137.3,998.1 1141.0,1013.9" fill="#000"/>
</g>
<g id="frame" fill="#000" shape-rendering="crispEdges">
<rect x="160" y="42" width="955" height="7"/>
<rect x="158" y="43" width="6" height="1206"/>
<rect x="158" y="1244" width="1252" height="5"/>
<rect x="1404" y="445" width="7" height="802"/>
<rect x="1114" y="443" width="296" height="7"/>
<rect x="1108" y="45" width="13" height="838"/>
<rect x="161" y="172" width="24" height="6"/>
<rect x="161" y="529" width="24" height="6"/>
<rect x="161" y="887" width="24" height="5"/>
<rect x="167.95" y="1223" width="5.5" height="23" shape-rendering="auto"/>
<rect x="356.75" y="1223" width="5.5" height="23" shape-rendering="auto"/>
<rect x="545.55" y="1223" width="5.5" height="23" shape-rendering="auto"/>
<rect x="734.35" y="1223" width="5.5" height="23" shape-rendering="auto"/>
<rect x="923.15" y="1223" width="5.5" height="23" shape-rendering="auto"/>
<rect x="1111.95" y="1223" width="5.5" height="23" shape-rendering="auto"/>
<rect x="1300.75" y="1223" width="5.5" height="23" shape-rendering="auto"/>
</g>
<g id="ticklabels" stroke="#fff" stroke-width="0.55" paint-order="fill stroke">
<g><text transform="translate(88.0 194.4) scale(0.925 1)" x="-2.1 24.6" y="0" font-size="51.8">15</text></g>
<g><text transform="translate(88.0 552.5) scale(0.925 1)" x="-2.1 24.6" y="0" font-size="51.8">10</text></g>
<g><text transform="translate(112.5 909.7) scale(0.925 1)" x="-2.1" y="0" font-size="51.8">5</text></g>
<g><text transform="translate(112.5 1267.1) scale(0.925 1)" x="-2.1" y="0" font-size="51.8">0</text></g>
<g><text transform="translate(133.4 1302.7) scale(1.7 0.47)" x="0" y="0" font-size="51.8">-</text><text transform="translate(135.8 1315.6) scale(0.925 1)" x="24.6 51.4" y="0" font-size="51.8">10</text></g>
<g><text transform="translate(333.8 1302.7) scale(1.7 0.47)" x="0" y="0" font-size="51.8">-</text><text transform="translate(336.2 1315.6) scale(0.925 1)" x="24.6" y="0" font-size="51.8">8</text></g>
<g><text transform="translate(523.0 1302.7) scale(1.7 0.47)" x="0" y="0" font-size="51.8">-</text><text transform="translate(525.4 1315.6) scale(0.925 1)" x="24.6" y="0" font-size="51.8">6</text></g>
<g><text transform="translate(712.2 1302.7) scale(1.7 0.47)" x="0" y="0" font-size="51.8">-</text><text transform="translate(714.6 1315.6) scale(0.925 1)" x="24.6" y="0" font-size="51.8">4</text></g>
<g><text transform="translate(900.6 1302.7) scale(1.7 0.47)" x="0" y="0" font-size="51.8">-</text><text transform="translate(903.0 1315.6) scale(0.925 1)" x="24.6" y="0" font-size="51.8">2</text></g>
<g><text transform="translate(1104.4 1315.6) scale(0.925 1)" x="-2.1" y="0" font-size="51.8">0</text></g>
<g><text transform="translate(1292.8 1315.6) scale(0.925 1)" x="-2.1" y="0" font-size="51.8">2</text></g>
</g>
<text x="737" y="1401.2" font-size="63.5"><tspan font-style="italic">x</tspan>/m</text>
<text transform="translate(55.3 693.6) rotate(-90)" font-size="63.5"><tspan font-style="italic">z</tspan>/m</text>
</svg>
</body>
</html>
